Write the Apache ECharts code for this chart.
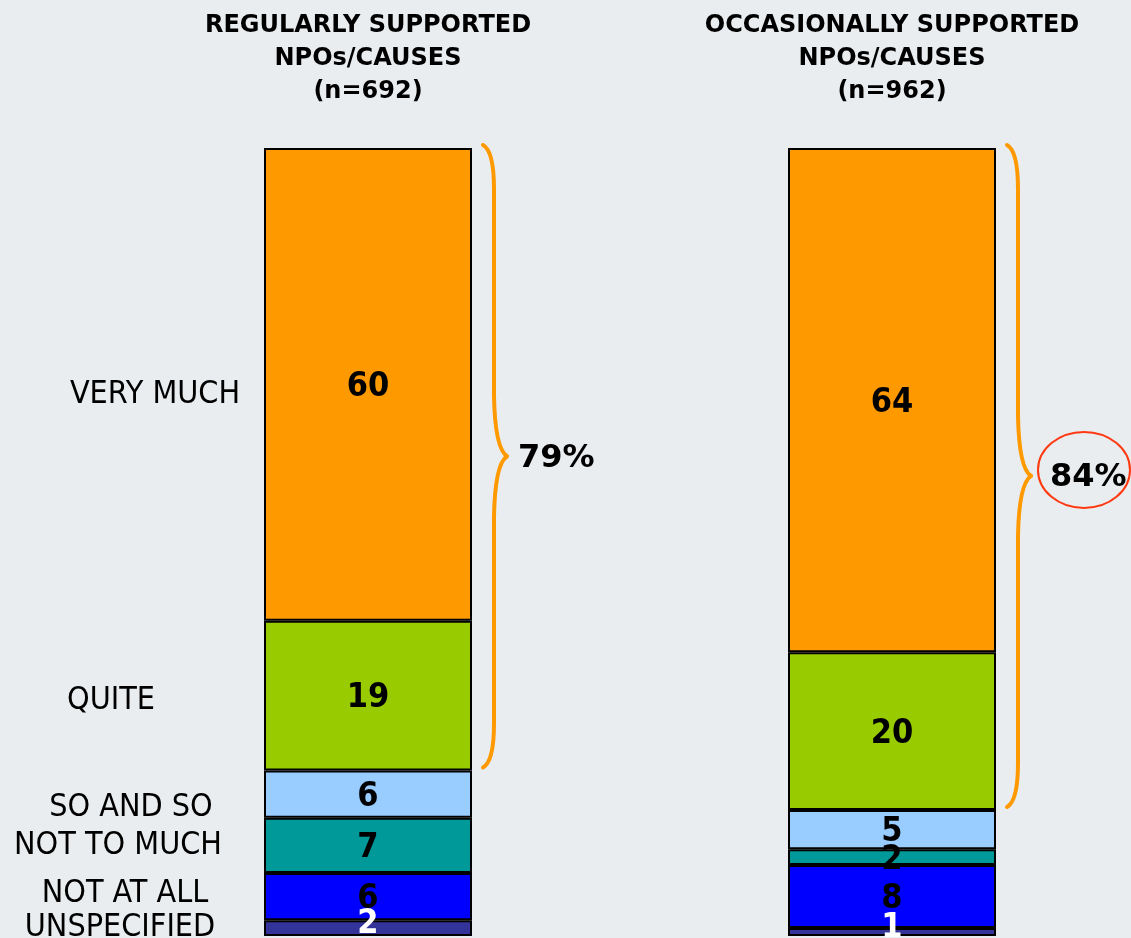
<!DOCTYPE html>
<html>
<head>
<meta charset="utf-8">
<title>Support level by NPO/cause type</title>
<script src="https://cdn.jsdelivr.net/npm/echarts@6/dist/echarts.min.js"></script>
<style>
  html, body { margin: 0; padding: 0; background: #e9edef; }
  #chart { width: 1131px; height: 938px; }
</style>
</head>
<body>
<div id="chart"></div>
<script>
// Groups (columns) and their headers
const groups = ['REGULARLY SUPPORTED\nNPOs/CAUSES\n(n=692)', 'OCCASIONALLY SUPPORTED\nNPOs/CAUSES\n(n=962)'];

// Answer categories, stacked from the bottom up
const categories = ['UNSPECIFIED', 'NOT AT ALL', 'NOT TO MUCH', 'SO AND SO', 'QUITE', 'VERY MUCH'];

// Percent shares per category: [regularly, occasionally]
const unspecified = [2, 1];
const notAtAll   = [6, 8];
const notToMuch  = [7, 2];
const soAndSo    = [6, 5];
const quite      = [19, 20];
const veryMuch   = [60, 64];

// Top-two-box totals shown beside the braces
const topTwoTotals = ['79%', '84%'];

const seriesValues = [unspecified, notAtAll, notToMuch, soAndSo, quite, veryMuch];
const seriesColors = ['#333399', '#0000ff', '#009999', '#99ccff', '#99cc00', '#ff9900'];

const narrowFont = "'DejaVu Sans Condensed', 'DejaVu Sans', sans-serif";

// Row captions at the left edge (centre x, centre y)
const captionLayout = {
  'VERY MUCH':   [155, 395],
  'QUITE':       [111, 701],
  'SO AND SO':   [131, 808],
  'NOT TO MUCH': [118, 846],
  'NOT AT ALL':  [125, 894],
  'UNSPECIFIED': [120, 928]
};

const chart = echarts.init(document.getElementById('chart'), null, { renderer: 'canvas' });

const series = categories.map((name, i) => ({
  name,
  type: 'bar',
  stack: 'total',
  barWidth: 208,
  data: seriesValues[i],
  itemStyle: { color: seriesColors[i], borderColor: '#000', borderWidth: 2 },
  label: {
    show: true,
    position: 'inside',
    fontFamily: narrowFont,
    fontWeight: 'bold',
    fontSize: 34,
    color: name === 'UNSPECIFIED' ? '#ffffff' : '#000000',
    offset: name === 'UNSPECIFIED' ? [0, -4] : [0, 3]
  },
  emphasis: { disabled: true }
}));

chart.setOption({
  backgroundColor: '#e9edef',
  animation: false,
  grid: { left: 106, width: 1048, top: 148, bottom: 2, outerBoundsMode: 'none', containLabel: false },
  xAxis: {
    type: 'category',
    position: 'top',
    data: groups,
    axisLine: { show: false },
    axisTick: { show: false },
    axisLabel: {
      interval: 0,
      margin: 40,
      fontFamily: 'DejaVu Sans',
      fontWeight: 'bold',
      fontSize: 24,
      lineHeight: 33,
      color: '#000'
    }
  },
  yAxis: { type: 'value', min: 0, max: 100, show: false },
  series
});

// Curly brace made of quadratic curves and straight runs
const braceStyle = { stroke: '#ff9900', lineWidth: 4, lineCap: 'round', fill: null };
function braceParts(x0, yTop, yBot) {
  const xe = x0 + 11, xs = x0 + 22, xt = x0 + 35;
  const mid = (yTop + yBot) / 2;
  const curve = (x1, y1, cx, cy, x2, y2) => ({
    type: 'bezierCurve', silent: true,
    shape: { x1, y1, cpx1: cx, cpy1: cy, x2, y2 }, style: braceStyle
  });
  const seg = (x1, y1, x2, y2) => ({
    type: 'line', silent: true,
    shape: { x1, y1, x2, y2 }, style: braceStyle
  });
  return [
    curve(xe, yTop, xs, yTop + 6, xs, yTop + 44),
    seg(xs, yTop + 44, xs, mid - 60),
    curve(xs, mid - 60, xs + 1, mid - 8, xt, mid),
    curve(xt, mid, xs + 1, mid + 8, xs, mid + 60),
    seg(xs, mid + 60, xs, yBot - 44),
    curve(xs, yBot - 44, xs, yBot - 6, xe, yBot)
  ];
}

const graphics = [];
groups.forEach((g, gi) => {
  const lowerSum = unspecified[gi] + notAtAll[gi] + notToMuch[gi] + soAndSo[gi];
  const total = lowerSum + quite[gi] + veryMuch[gi];
  const barRight = chart.convertToPixel({ gridIndex: 0 }, [gi, 0])[0] + 104;
  const yTop = chart.convertToPixel({ gridIndex: 0 }, [gi, total])[1] - 3;
  const yBot = chart.convertToPixel({ gridIndex: 0 }, [gi, lowerSum])[1] - 3;
  const mid = (yTop + yBot) / 2;
  graphics.push(...braceParts(barRight, yTop, yBot));
  graphics.push({
    type: 'text',
    x: barRight + 46 + gi * 8,
    y: mid + 2,
    style: {
      text: topTwoTotals[gi],
      fontFamily: 'DejaVu Sans',
      fontWeight: 'bold',
      fontSize: 32,
      fill: '#000',
      verticalAlign: 'middle',
      align: 'left'
    },
    silent: true
  });
  if (gi === 1) {
    graphics.push({
      type: 'ellipse',
      shape: { cx: barRight + 88, cy: mid - 6, rx: 46, ry: 38 },
      style: { fill: null, stroke: '#ff3a12', lineWidth: 2 },
      silent: true
    });
  }
});

categories.forEach(name => {
  const [cx, cy] = captionLayout[name];
  graphics.push({
    type: 'text',
    x: cx,
    y: cy,
    style: {
      text: name,
      fontFamily: narrowFont,
      fontSize: 32,
      fill: '#000',
      align: 'center',
      verticalAlign: 'middle'
    },
    silent: true
  });
});

chart.setOption({ graphic: graphics });
</script>
</body>
</html>
